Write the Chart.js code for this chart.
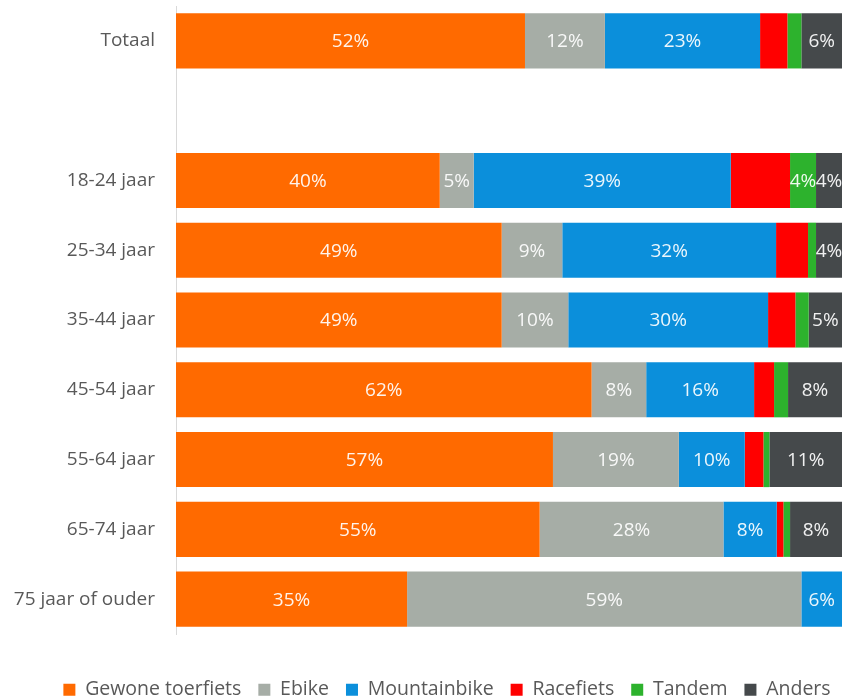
<!DOCTYPE html>
<html>
<head>
<meta charset="utf-8">
<script src="https://cdn.jsdelivr.net/npm/chart.js@4/dist/chart.umd.min.js"></script>
<style>
  html, body { margin: 0; padding: 0; background: #ffffff; }
  #wrap { width: 842px; height: 699px; }
</style>
</head>
<body>
<div id="wrap"><canvas id="c" width="842" height="699"></canvas></div>
<script>
// Categories (blank row separates the total from the age groups)
const categories = ["Totaal", "", "18-24 jaar", "25-34 jaar", "35-44 jaar", "45-54 jaar", "55-64 jaar", "65-74 jaar", "75 jaar of ouder"];

// Shares per bike type (%)
const gewoneToerfiets = [52.4, null, 39.6, 48.9, 48.9, 62.4, 56.6, 54.6, 34.7];
const ebike           = [12.0, null,  5.1,  9.1, 10.0,  8.2, 18.9, 27.6, 59.2];
const mountainbike    = [23.3, null, 38.6, 32.1, 30.0, 16.2,  9.9,  8.0,  6.1];
const racefiets       = [ 4.1, null,  8.9,  4.8,  4.1,  3.0,  2.8,  1.0,  0];
const tandem          = [ 2.1, null,  3.9,  1.2,  2.0,  2.1,  0.9,  1.0,  0];
const anders          = [ 6.1, null,  3.9,  3.9,  5.0,  8.1, 10.9,  7.8,  0];

const seriesNames = ["Gewone toerfiets", "Ebike", "Mountainbike", "Racefiets", "Tandem", "Anders"];
const seriesData = [gewoneToerfiets, ebike, mountainbike, racefiets, tandem, anders];
const seriesColors = ["#FF6A00", "#A6ADA6", "#0B8FDB", "#FF0000", "#2DB22D", "#45494B"];
const unlabeledSeries = ["Racefiets"];

const FONT = "'Open Sans', 'DejaVu Sans', sans-serif";

const barLabels = {
  id: 'barLabels',
  afterLayout(chart) {
    // push the legend row down toward the bottom edge and slightly right
    const lg = chart.legend;
    if (lg) { lg.top += 29; lg.bottom += 29; lg.left += 26; lg.right += 26; }
  },
  afterDatasetsDraw(chart) {
    const ctx = chart.ctx;
    ctx.save();
    ctx.font = "19px " + FONT;
    ctx.fillStyle = "rgba(255,255,255,0.92)";
    ctx.textAlign = "center";
    ctx.textBaseline = "middle";
    chart.data.datasets.forEach((ds, di) => {
      if (unlabeledSeries.includes(ds.label)) return;
      const meta = chart.getDatasetMeta(di);
      meta.data.forEach((el, i) => {
        const v = ds.data[i];
        if (v == null || v < 3.5) return;
        const p = el.getCenterPoint();
        ctx.fillText(Math.round(v) + "%", p.x, p.y + 1);
      });
    });
    ctx.restore();
  }
};

new Chart(document.getElementById('c'), {
  type: 'bar',
  data: {
    labels: categories,
    datasets: seriesNames.map((n, i) => ({
      label: n,
      data: seriesData[i],
      backgroundColor: seriesColors[i],
      borderWidth: 0,
      barPercentage: 0.79,
      categoryPercentage: 1.0
    }))
  },
  options: {
    indexAxis: 'y',
    responsive: false,
    animation: false,
    devicePixelRatio: 1,
    layout: { padding: { top: 6, left: 0, right: 0, bottom: 18.5 } },
    scales: {
      x: {
        stacked: true, min: 0, max: 100,
        display: false
      },
      y: {
        stacked: true,
        grid: { display: false, drawTicks: false },
        border: { display: true, color: '#d9d9d9', width: 1 },
        ticks: { color: '#595959', font: { family: FONT, size: 19 }, padding: 21 },
        afterFit(scale) { scale.width = 176; scale.paddingTop = 0; scale.paddingBottom = 0; }
      }
    },
    plugins: {
      legend: {
        position: 'bottom',
        labels: {
          color: '#595959',
          font: { family: FONT, size: 19.5 },
          boxWidth: 12, boxHeight: 12,
          padding: 17
        }
      },
      tooltip: { enabled: false }
    }
  },
  plugins: [barLabels]
});
</script>
</body>
</html>
